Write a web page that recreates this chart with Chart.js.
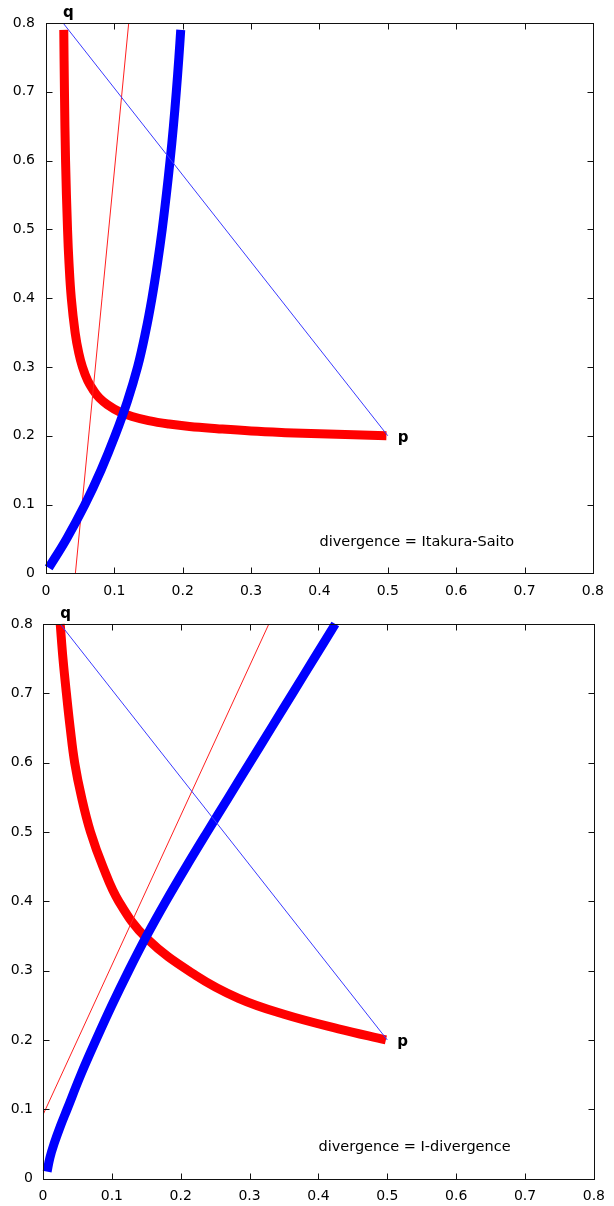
<!DOCTYPE html>
<html><head><meta charset="utf-8">
<script src="https://cdn.jsdelivr.net/npm/chart.js@4.4.0/dist/chart.umd.min.js"></script>
<style>
html,body{margin:0;padding:0;background:#fff;width:614px;height:1206px;overflow:hidden}
.box{position:relative;width:614px;height:603px}
canvas{display:block}
</style></head><body>
<div class="box"><canvas id="c1" width="614" height="603"></canvas></div>
<div class="box"><canvas id="c2" width="614" height="603"></canvas></div>
<script>
// ---- shared ----
const axisTicks = [0, 0.1, 0.2, 0.3, 0.4, 0.5, 0.6, 0.7, 0.8];
const pointP = [0.5, 0.2];
const pointQ = [0.025, 0.8];
const captionAt = [0.4, 0.04];

// ---- Itakura-Saito panel ----
const isTitle = 'divergence = Itakura-Saito';
const isRedCurve = [[0.026,0.79],[0.027,0.7],[0.0286,0.6],[0.0315,0.5],[0.0337,0.45],[0.037,0.4],[0.0426,0.35],[0.048,0.32],[0.0533,0.3],[0.061,0.28],[0.07,0.265],[0.078,0.255],[0.09,0.245],[0.107,0.235],[0.126,0.228],[0.15,0.222],[0.18,0.217],[0.21,0.2134],[0.25,0.2102],[0.3,0.2068],[0.35,0.2045],[0.4,0.2028],[0.45,0.2013],[0.498,0.2]];
const isBlueCurve = [[0.004,0.008],[0.03,0.05],[0.057,0.1],[0.0805,0.15],[0.101,0.2],[0.119,0.25],[0.134,0.3],[0.1455,0.35],[0.155,0.4],[0.163,0.45],[0.17,0.5],[0.176,0.55],[0.1815,0.6],[0.1864,0.65],[0.1906,0.7],[0.1944,0.75],[0.1971,0.79]];
const isRedLine = [[0.043,0],[0.121,0.8]];

// ---- I-divergence panel ----
const idTitle = 'divergence = I-divergence';
const idRedCurve = [[0.025,0.8],[0.029,0.75],[0.034,0.7],[0.0395,0.65],[0.046,0.6],[0.056,0.55],[0.069,0.5],[0.087,0.45],[0.11,0.4],[0.15,0.347],[0.222,0.293],[0.284,0.26],[0.35,0.237],[0.429,0.216],[0.498,0.2]];
const idBlueCurve = [[0.006,0.01],[0.01,0.03],[0.016,0.05],[0.025,0.075],[0.035,0.1],[0.055,0.15],[0.077,0.2],[0.1,0.25],[0.1245,0.3],[0.1505,0.35],[0.1785,0.4],[0.208,0.45],[0.2385,0.5],[0.2695,0.55],[0.3005,0.6],[0.3315,0.65],[0.3625,0.7],[0.3935,0.75],[0.4245,0.8]];
const idRedLine = [[0,0.092],[0.328,0.8]];

const toXY = arr => arr.map(p => ({x: p[0], y: p[1]}));

const decorPlugin = {
  id: 'decor',
  afterDatasetsDraw(chart, args, opts) {
    const {ctx, chartArea: a, scales: {x, y}} = chart;
    ctx.save();
    ctx.strokeStyle = '#111';
    ctx.lineWidth = 1;
    const L = Math.round(a.left) + 0.5, R = Math.round(a.right) + 0.5;
    const T = Math.round(a.top) + 0.5, B = Math.round(a.bottom) + 0.5;
    ctx.strokeRect(L, T, R - L, B - T);
    ctx.beginPath();
    axisTicks.forEach(v => {
      const px = Math.round(x.getPixelForValue(v)) + 0.5;
      ctx.moveTo(px, B); ctx.lineTo(px, B - 6);
      ctx.moveTo(px, T); ctx.lineTo(px, T + 6);
      const py = Math.round(y.getPixelForValue(v)) + 0.5;
      ctx.moveTo(L, py); ctx.lineTo(L + 6, py);
      ctx.moveTo(R, py); ctx.lineTo(R - 6, py);
    });
    ctx.stroke();
    ctx.fillStyle = '#000';
    ctx.textAlign = 'left';
    ctx.textBaseline = 'alphabetic';
    ctx.font = 'bold 15px "DejaVu Sans"';
    ctx.fillText('p', x.getPixelForValue(pointP[0]) + 10, y.getPixelForValue(pointP[1]) + 6);
    ctx.fillText('q', x.getPixelForValue(pointQ[0]), y.getPixelForValue(pointQ[1]) - 6);
    ctx.font = '14.5px "DejaVu Sans"';
    ctx.fillText(opts.title, x.getPixelForValue(captionAt[0]), y.getPixelForValue(captionAt[1]));
    ctx.restore();
  }
};

function makeChart(id, curves, title, area) {
  const fmt = v => String(Math.round(v * 10) / 10);
  const tickFont = {family: '"DejaVu Sans"', size: 14};
  new Chart(document.getElementById(id), {
    type: 'scatter',
    data: {
      datasets: [
        {data: toXY(curves.blue), showLine: true, borderColor: '#0000ff', borderWidth: 9, pointRadius: 0, borderCapStyle: 'butt', borderJoinStyle: 'round', tension: 0.4, order: 1, clip: false},
        {data: toXY(curves.redLine), showLine: true, borderColor: '#ff2020', borderWidth: 1, pointRadius: 0, order: 2},
        {data: toXY(curves.red), showLine: true, borderColor: '#ff0000', borderWidth: 9, pointRadius: 0, borderCapStyle: 'butt', borderJoinStyle: 'round', tension: 0.4, order: 3, clip: false},
        {data: toXY([pointQ, pointP]), showLine: true, borderColor: '#3a3aff', borderWidth: 1, pointRadius: 0, order: 0}
      ]
    },
    options: {
      responsive: false, animation: false, devicePixelRatio: 1,
      layout: {padding: {left: 0, top: area.top, right: 614 - area.right, bottom: 2}},
      plugins: {legend: {display: false}, tooltip: {enabled: false}, decor: {title: title}},
      scales: {
        x: {
          type: 'linear', min: 0, max: 0.8,
          afterBuildTicks: s => { s.ticks = axisTicks.map(v => ({value: v})); },
          afterFit: s => { s.height = 603 - area.bottom - 2; },
          grid: {display: false, drawTicks: false}, border: {display: false},
          ticks: {padding: area.xpad, font: tickFont, color: '#000', callback: fmt, maxRotation: 0, autoSkip: false}
        },
        y: {
          type: 'linear', min: 0, max: 0.8,
          afterBuildTicks: s => { s.ticks = axisTicks.map(v => ({value: v})); },
          afterFit: s => { s.width = area.left; },
          grid: {display: false, drawTicks: false}, border: {display: false},
          ticks: {padding: area.ypad, font: tickFont, color: '#000', callback: fmt, autoSkip: false}
        }
      }
    },
    plugins: [decorPlugin]
  });
}

makeChart('c1', {red: isRedCurve, blue: isBlueCurve, redLine: isRedLine}, isTitle,
  {left: 46, right: 599.6, top: 23, bottom: 573.3, xpad: 10, ypad: 11});
makeChart('c2', {red: idRedCurve, blue: idBlueCurve, redLine: idRedLine}, idTitle,
  {left: 43, right: 597.5, top: 21, bottom: 575.6, xpad: 9, ypad: 10});
</script>
</body></html>
